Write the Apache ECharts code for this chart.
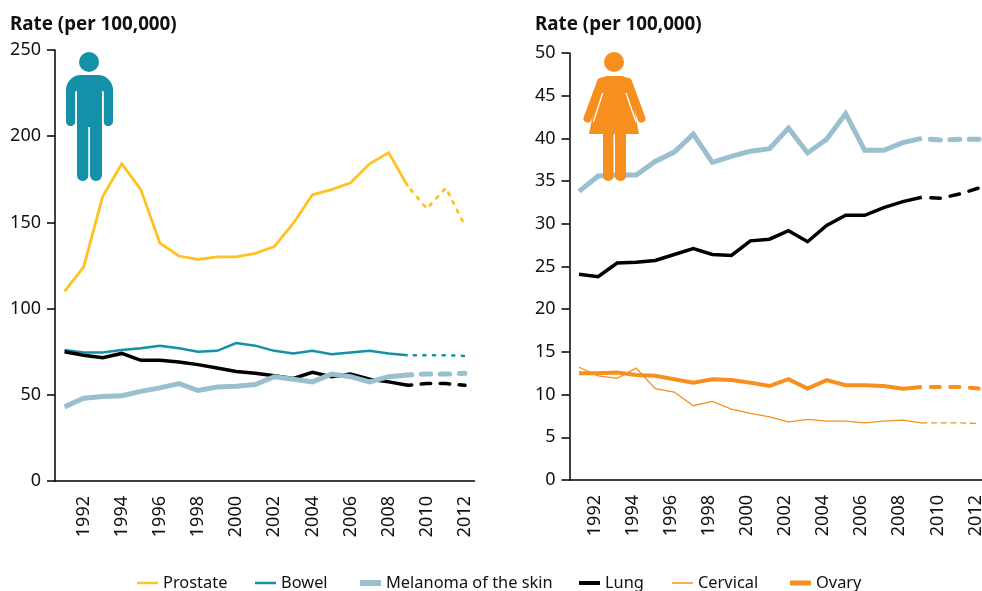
<!DOCTYPE html>
<html><head><meta charset="utf-8">
<style>html,body{margin:0;padding:0;background:#fff}#c{width:982px;height:591px}</style>
<script src="https://cdn.jsdelivr.net/npm/echarts@6/dist/echarts.min.js"></script>
</head><body><div id="c"></div>
<script>
const years = ['1991','1992','1993','1994','1995','1996','1997','1998','1999','2000','2001','2002','2003','2004','2005','2006','2007','2008','2009','2010','2011','2012'];
const N = null;
const maleProstate = [110,124,165,184,169,138,130.5,128.5,130,130,132,136,149.5,166,169,173,184,190.5,171,N,N,N];
const maleProstateProj = [N,N,N,N,N,N,N,N,N,N,N,N,N,N,N,N,N,N,171,158,170,148];
const maleBowel = [76,74.5,74.5,76,77,78.5,77,75,75.5,80,78.5,75.5,74,75.5,73.5,74.5,75.5,74,73,N,N,N];
const maleBowelProj = [N,N,N,N,N,N,N,N,N,N,N,N,N,N,N,N,N,N,73,73,73,72.5];
const maleMelanoma = [43,48,49,49.5,52,54,56.5,52.5,54.5,55,56,60.5,59,57.5,62,60.5,57.5,60.5,61.5,N,N,N];
const maleMelanomaProj = [N,N,N,N,N,N,N,N,N,N,N,N,N,N,N,N,N,N,61.5,62,62,62.5];
const maleLung = [75,73,71.5,74,70,70,69,67.5,65.5,63.5,62.5,61,59.5,63,60.5,62,59,57.5,55.5,N,N,N];
const maleLungProj = [N,N,N,N,N,N,N,N,N,N,N,N,N,N,N,N,N,N,55.5,56.5,56.5,55.5];
const femMelanoma = [33.8,35.6,35.7,35.7,37.3,38.4,40.5,37.2,37.9,38.5,38.8,41.2,38.3,39.9,42.9,38.6,38.6,39.5,40,N,N,N];
const femMelanomaProj = [N,N,N,N,N,N,N,N,N,N,N,N,N,N,N,N,N,N,40,39.8,39.9,39.9];
const femLung = [24.1,23.8,25.4,25.5,25.7,26.4,27.1,26.4,26.3,28,28.2,29.2,27.9,29.8,31,31,31.9,32.6,33.1,N,N,N];
const femLungProj = [N,N,N,N,N,N,N,N,N,N,N,N,N,N,N,N,N,N,33.1,33,33.5,34.2];
const femCervical = [13.2,12.2,11.9,13.1,10.7,10.3,8.7,9.2,8.3,7.8,7.4,6.8,7.1,6.9,6.9,6.7,6.9,7,6.7,N,N,N];
const femCervicalProj = [N,N,N,N,N,N,N,N,N,N,N,N,N,N,N,N,N,N,6.7,6.7,6.7,6.6];
const femOvary = [12.5,12.5,12.6,12.3,12.2,11.8,11.4,11.8,11.7,11.4,11,11.8,10.7,11.7,11.1,11.1,11,10.7,10.9,N,N,N];
const femOvaryProj = [N,N,N,N,N,N,N,N,N,N,N,N,N,N,N,N,N,N,10.9,10.9,10.9,10.7];
const legendNames = ['Prostate','Bowel','Melanoma of the skin','Lung','Cervical','Ovary'];
const legendLeft = [137,255,360,579,672,790];
const legendThick = [2.5,2.5,6,4,1.5,5];
const yTitle = 'Rate (per 100,000)';

const FONT = '"Noto Sans", "Open Sans", sans-serif';
const C = {prostate:'#FFC222', bowel:'#1490A8', mel:'#9ABFCE', lung:'#000000', fem:'#F78F1E'};
function line(name, data, color, width, idx, dash, offset){
  return {name, type:'line', data, xAxisIndex:idx, yAxisIndex:idx, symbol:'none', smooth:false, connectNulls:false,
    silent:true, animation:false,
    itemStyle:{color},
    lineStyle:{color, width, type: dash||'solid', dashOffset: offset||0, cap: dash? 'round':'butt', join:'miter'}};
}
function xAxis(i, extra){
  return {gridIndex:i, type:'category', data:years, boundaryGap:true,
    axisLine:{show:true, onZero:false, lineStyle:{color:'#000', width:1.5}},
    axisTick:{show:false},
    axisLabel:Object.assign({rotate:90, interval:(k)=>k%2===1, color:'#111', fontSize:18, fontFamily:FONT, margin:15}, extra||{})};
}
function yAxis(i, max, interval){
  return {gridIndex:i, type:'value', min:0, max, interval, splitLine:{show:false},
    axisLine:{show:true, onZero:false, lineStyle:{color:'#000', width:1.5}},
    axisTick:{show:true, length:8, lineStyle:{color:'#000', width:1.5}},
    axisLabel:{color:'#111', fontSize:18, fontFamily:FONT, margin:14}};
}
const gr = [
  {type:'circle', shape:{cx:89,cy:62,r:10}, style:{fill:C.bowel}, z:20},
  {type:'rect', shape:{x:66,y:75,width:47,height:18,r:[15,15,0,0]}, style:{fill:C.bowel}, z:20},
  {type:'line', shape:{x1:70.7,y1:90,x2:70.7,y2:121.5}, style:{stroke:C.bowel,lineWidth:9.4,lineCap:'round'}, z:20},
  {type:'line', shape:{x1:108.3,y1:90,x2:108.3,y2:121.5}, style:{stroke:C.bowel,lineWidth:9.4,lineCap:'round'}, z:20},
  {type:'rect', shape:{x:75.4,y:91,width:28.2,height:40}, style:{fill:'#fff'}, z:20},
  {type:'rect', shape:{x:77,y:85,width:25,height:42}, style:{fill:C.bowel}, z:21},
  {type:'rect', shape:{x:77,y:120,width:11.3,height:61,r:[0,0,5.6,5.6]}, style:{fill:C.bowel}, z:21},
  {type:'rect', shape:{x:90,y:120,width:12,height:61,r:[0,0,6,6]}, style:{fill:C.bowel}, z:21},
  {type:'circle', shape:{cx:614,cy:62,r:10}, style:{fill:C.fem}, z:20},
  {type:'polygon', shape:{points:[[607,76],[622,76],[628,78],[639,134],[589,134],[600,78]]}, style:{fill:C.fem}, z:20},
  {type:'line', shape:{x1:601,y1:82,x2:587.5,y2:118.5}, style:{stroke:C.fem,lineWidth:8,lineCap:'round'}, z:20},
  {type:'line', shape:{x1:628,y1:82,x2:641.5,y2:118.5}, style:{stroke:C.fem,lineWidth:8,lineCap:'round'}, z:20},
  {type:'line', shape:{x1:602.7,y1:93,x2:593.3,y2:122}, style:{stroke:'#fff',lineWidth:1.3}, z:21},
  {type:'line', shape:{x1:626,y1:93,x2:636,y2:122}, style:{stroke:'#fff',lineWidth:1.3}, z:21},
  {type:'rect', shape:{x:603,y:130,width:10.5,height:51,r:[0,0,5,5]}, style:{fill:C.fem}, z:20},
  {type:'rect', shape:{x:615,y:130,width:11,height:51,r:[0,0,5,5]}, style:{fill:C.fem}, z:20}
];
const chart = echarts.init(document.getElementById('c'), null, {renderer:'canvas'});
chart.setOption({
  animation:false, backgroundColor:'#fff',
  title:[
    {text:yTitle, left:5, top:10, textStyle:{fontFamily:FONT, fontSize:18.8, fontWeight:'bold', color:'#111'}},
    {text:yTitle, left:530, top:10, textStyle:{fontFamily:FONT, fontSize:18.8, fontWeight:'bold', color:'#111'}}
  ],
  legend:legendNames.map((n,i)=>({data:[n], icon:'rect', left:legendLeft[i]-5, top:570, itemWidth:21, itemHeight:legendThick[i], selectedMode:false,
    textStyle:{fontFamily:FONT, fontSize:16.4, color:'#111'}})),
  grid:[{left:55, top:50, width:419.5, height:431, outerBoundsMode:'none'},{left:569.5, top:53, width:419, height:427, outerBoundsMode:'none'}],
  xAxis:[xAxis(0), xAxis(1, {verticalAlign:'bottom', lineHeight:7})],
  yAxis:[yAxis(0,250,50), yAxis(1,50,5)],
  graphic:gr,
  series:[
    line('Prostate', maleProstate, C.prostate, 2.8, 0),
    line('Prostate proj', maleProstateProj, C.prostate, 2.8, 0, [2.5,7.2], 5),
    line('Bowel', maleBowel, C.bowel, 2.5, 0),
    line('Bowel proj', maleBowelProj, C.bowel, 2.5, 0, [2.2,7.4], 3.6),
    line('Lung', maleLung, C.lung, 3.5, 0),
    line('Lung proj', maleLungProj, C.lung, 3.5, 0, [9.5,9.5], 5.5),
    line('Melanoma of the skin', maleMelanoma, C.mel, 5, 0),
    line('Melanoma proj', maleMelanomaProj, C.mel, 5, 0, [9.5,9.5], 5.5),
    line('Melanoma of the skin', femMelanoma, C.mel, 5, 1),
    line('Melanoma proj', femMelanomaProj, C.mel, 5, 1, [10,9.5], 11),
    line('Lung', femLung, C.lung, 3.5, 1),
    line('Lung proj', femLungProj, C.lung, 3.5, 1, [9.5,10], 10.5),
    line('Cervical', femCervical, C.fem, 1.3, 1),
    line('Cervical proj', femCervicalProj, C.fem, 1.3, 1, [5,4.7], 0),
    line('Ovary', femOvary, C.fem, 4, 1),
    line('Ovary proj', femOvaryProj, C.fem, 4, 1, [9,10.5], 10.5)
  ]
});
</script></body></html>
